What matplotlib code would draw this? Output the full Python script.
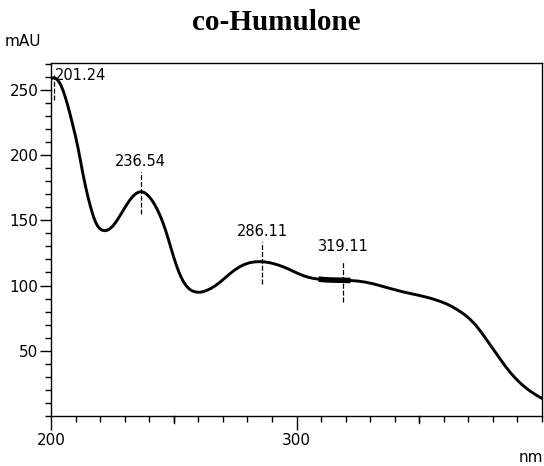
import numpy as np
import matplotlib
matplotlib.use("Agg")
import matplotlib.pyplot as plt
from matplotlib.ticker import MultipleLocator

# ---- data ----
wavelength = [200, 201.24, 202, 203, 204, 205, 206, 207, 208, 209, 210, 211, 212, 213, 214,
              215, 216, 217, 218, 219, 220, 221, 222, 223, 224, 225, 226, 227, 228, 229,
              230, 231, 232, 233, 234, 235, 236, 237, 238, 239, 240, 241, 242, 243, 244,
              245, 246, 247, 248, 249, 250, 251, 252, 253, 254, 255, 256, 257, 258, 259,
              260, 261, 262, 263, 265, 267, 269, 271, 273, 275, 277, 279, 281, 283, 285,
              287, 289, 291, 293, 295, 297, 299, 301, 303, 305, 307, 309, 311, 313, 316,
              319, 322, 325, 328, 331, 334, 337, 340, 343, 346, 349, 352, 355, 357, 359,
              361, 363, 365, 367, 369, 371, 373, 375, 377, 379, 381, 383, 385, 387, 389,
              391, 393, 395, 397, 399, 400]
absorbance = [258.5, 259.3, 258.6, 256.8, 253.6, 249, 243.3, 236.7, 229.6, 222, 214.2, 205.5, 195.7, 185.6, 176.5,
              168.3, 161, 154.5, 149.2, 145.5, 143.3, 142.3, 142, 142.4, 143.5, 145.2, 147.5, 150.2, 153.2, 156.3,
              159.4, 162.4, 165.2, 167.6, 169.5, 170.9, 171.7, 171.8, 171.2, 169.9, 168, 165.6, 162.7, 159.3, 155.4,
              151, 146, 140.4, 134.2, 127.8, 121.6, 115.9, 110.8, 106.4, 102.8, 100, 97.9, 96.4, 95.5, 95,
              94.8, 94.9, 95.3, 95.9, 97.6, 99.9, 102.8, 106, 109.2, 112.1, 114.5, 116.3, 117.5, 118.1, 118.3,
              118.1, 117.5, 116.6, 115.4, 114, 112.4, 110.6, 108.9, 107.4, 106.2, 105.4, 104.9, 104.5, 104.3, 104.1,
              104, 103.8, 103.4, 102.6, 101.4, 99.9, 98.3, 96.8, 95.3, 94, 92.8, 91.5, 90, 88.8, 87.5,
              86, 84.2, 82, 79.6, 76.9, 73.6, 69.6, 64.8, 59.6, 54.2, 48.9, 43.6, 38.3, 33.5, 29.3,
              25.5, 22.2, 19.3, 16.8, 14.5, 13.5]
peaks = [201.24, 236.54, 286.11, 319.11]
peak_labels = ["201.24", "236.54", "286.11", "319.11"]
thick_range = (309, 322)

title = "co-Humulone"
y_unit = "mAU"
x_unit = "nm"

wl = np.array(wavelength)
ab = np.array(absorbance)

fig = plt.figure(figsize=(5.44, 4.66), dpi=100)
ax = fig.add_axes([51/544, 50/466, 491/544, 353/466])

ax.plot(wl, ab, color="black", lw=2.1, solid_capstyle="round", solid_joinstyle="round")
mask = (wl >= thick_range[0]) & (wl <= thick_range[1])
ax.plot(wl[mask], ab[mask], color="black", lw=4.0, solid_capstyle="butt")

dash = (0, (4, 1.5))
for p, lab in zip(peaks, peak_labels):
    v = np.interp(p, wl, ab)
    if p < 205:
        ax.plot([p, p], [v - 17, v + 2], color="black", lw=0.9, ls=dash)
        ax.text(p + 0.2, v + 1.5, lab, ha="left", va="center", fontsize=10.5,
                family="DejaVu Sans", color="black")
    else:
        ax.plot([p, p], [v - 17, v + 15], color="black", lw=0.9, ls=dash)
        off = 26 if p > 300 else 23.5
        ax.text(p, v + off, lab, ha="center", va="center", fontsize=10.5,
                family="DejaVu Sans", color="black")

ax.set_xlim(200, 400)
ax.set_ylim(0, 270.5)
ax.set_xticks([200, 300])
ax.xaxis.set_minor_locator(MultipleLocator(10))
ax.set_yticks([50, 100, 150, 200, 250])
ax.yaxis.set_minor_locator(MultipleLocator(10))
ax.tick_params(which="major", direction="out", length=8, width=1.0, labelsize=11, pad=1)
ax.tick_params(which="minor", direction="out", length=4.5, width=1.0)
ax.tick_params(axis="x", which="major", length=10, pad=2)
for lbl in ax.get_xticklabels() + ax.get_yticklabels():
    lbl.set_family("DejaVu Sans")
# medium ticks every 50 nm
for xm in (250, 350):
    ax.plot([xm, xm], [0, -5.5], color="black", lw=1.0, clip_on=False)

for s in ax.spines.values():
    s.set_linewidth(1.0)

fig.text(276/544, 1 - 23/466, title, ha="center", va="center",
         fontsize=21, fontweight="bold", family="Liberation Serif")
fig.text(5/544, 1 - 42/466, y_unit, ha="left", va="center", fontsize=11, family="DejaVu Sans")
fig.text(543/544, 1 - 458/466, x_unit, ha="right", va="center", fontsize=11, family="DejaVu Sans")

fig.savefig("out.png", dpi=100)
